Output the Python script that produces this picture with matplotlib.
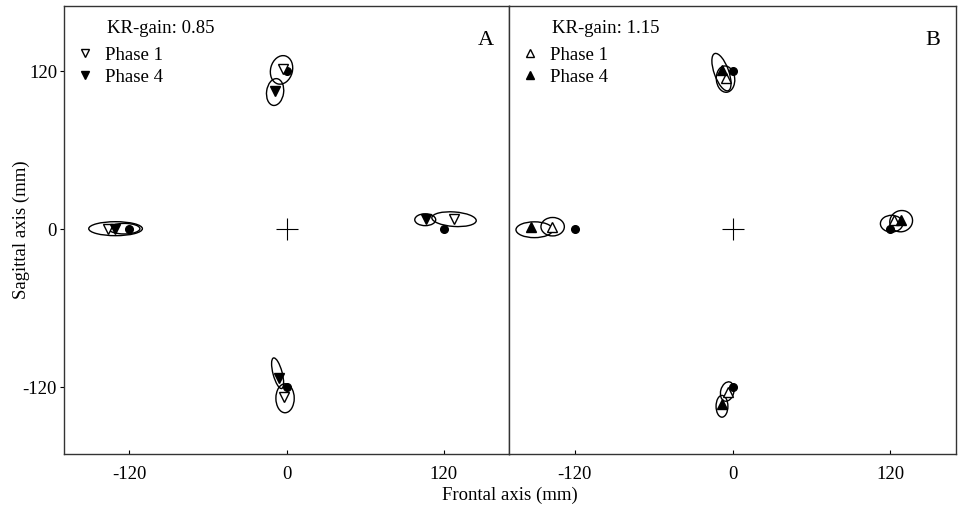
import matplotlib
matplotlib.use("Agg")
import matplotlib.pyplot as plt
from matplotlib.patches import Ellipse
from matplotlib.lines import Line2D

plt.rcParams["font.family"] = ["Liberation Serif", "DejaVu Serif"]
plt.rcParams["font.size"] = 13.5
plt.rcParams["axes.unicode_minus"] = False

# target positions (mm), same in both panels
target_x = [-120, 120, 0, 0]
target_y = [0, 0, 120, -120]

# panel A, KR-gain 0.85 (mean endpoints)
a_p1_x = [-3.0, -136.7, 128.3, -2.0]
a_p1_y = [121.0, 0.0, 7.6, -127.8]
a_p4_x = [-9.0, -131.0, 106.8, -6.0]
a_p4_y = [104.8, 0.0, 7.6, -113.4]
# variability ellipses: centre x, centre y, width, height, angle
a_ell_x = [-3.8, -8.7, -130.6, -124.0, 128.0, 106.0, -6.8, -1.1]
a_ell_y = [120.5, 103.7, 0.0, 0.0, 7.2, 6.8, -109.7, -128.7]
a_ell_w = [16.7, 13.0, 41.0, 24.0, 34.0, 16.0, 7.0, 14.0]
a_ell_h = [22.0, 20.5, 10.6, 8.0, 11.0, 9.0, 24.0, 22.0]
a_ell_a = [-15, -8, 0, 0, -4, 0, 15, 0]

# panel B, KR-gain 1.15
b_p1_x = [-5.3, -137.5, 122.6, -3.5]
b_p1_y = [114.0, 1.5, 6.3, -123.7]
b_p4_x = [-8.1, -152.9, 128.5, -8.1]
b_p4_y = [120.5, 1.5, 6.3, -133.0]
b_ell_x = [-8.4, -5.3, -150.7, -136.8, 121.0, 128.3, -4.0, -8.0]
b_ell_y = [118.8, 113.5, -0.8, 1.5, 3.8, 5.7, -123.6, -134.8]
b_ell_w = [11.0, 14.0, 28.0, 17.8, 17.0, 17.5, 10.0, 9.0]
b_ell_h = [30.0, 20.0, 12.0, 14.0, 12.7, 16.0, 15.0, 16.5]
b_ell_a = [20, 5, 0, 0, 0, 20, -15, 0]

panels = [
    ("A", "KR-gain: 0.85", "v", a_p1_x, a_p1_y, a_p4_x, a_p4_y,
     (a_ell_x, a_ell_y, a_ell_w, a_ell_h, a_ell_a)),
    ("B", "KR-gain: 1.15", "^", b_p1_x, b_p1_y, b_p4_x, b_p4_y,
     (b_ell_x, b_ell_y, b_ell_w, b_ell_h, b_ell_a)),
]

fig = plt.figure(figsize=(9.58, 5.10), dpi=100)
axA = fig.add_axes([64 / 958, 55 / 510, 445 / 958, 448 / 510])
axB = fig.add_axes([509 / 958, 55 / 510, 447 / 958, 448 / 510])

for ax, (tag, gain, mk, p1x, p1y, p4x, p4y, ell) in zip([axA, axB], panels):
    for cx, cy, w, h, ang in zip(*ell):
        ax.add_patch(Ellipse((cx, cy), w, h, angle=ang, fill=False,
                             ec="black", lw=1.0, zorder=2))
    ax.plot(target_x, target_y, "o", color="black", ms=5.5, ls="none", zorder=3)
    ax.plot(p1x, p1y, mk, mfc="white", mec="black", mew=1.0, ms=6.5, ls="none", zorder=4)
    ax.plot(p4x, p4y, mk, color="black", ms=6.5, ls="none", zorder=4)
    ax.plot([0], [0], "+", color="black", ms=16, mew=0.8)

    ax.set_xlim(-170, 170)
    ax.set_ylim(-171, 169)
    ax.set_xticks([-120, 0, 120])
    ax.tick_params(axis="x", direction="in", length=3, width=0.8, top=False, pad=8)
    ax.tick_params(axis="y", direction="out", length=3, width=0.8, right=False, pad=2)
    for s in ax.spines.values():
        s.set_linewidth(1.0)
        s.set_color("#333333")

    ax.text(-137, 152.5, gain, ha="left", va="center")
    ax.text(0.965, 0.925, tag, transform=ax.transAxes, ha="right", va="center",
            fontsize=16)
    handles = [Line2D([], [], marker=mk, ls="none", mfc="white", mec="black", ms=6),
               Line2D([], [], marker=mk, ls="none", color="black", ms=6)]
    ax.legend(handles, ["Phase 1", "Phase 4"], loc="upper left",
              bbox_to_anchor=(0.028, 0.91), frameon=False, borderpad=0,
              handlelength=0.9, handletextpad=0.6, labelspacing=0.25,
              borderaxespad=0)

axA.set_yticks([-120, 0, 120])
axB.set_yticks([])
fig.text(21 / 958, 1 - 230 / 510, "Sagittal axis (mm)", rotation=90,
         ha="center", va="center")
fig.text(510 / 958, 1 - 495 / 510, "Frontal axis (mm)", ha="center", va="center")

fig.savefig("out.png", dpi=100)
